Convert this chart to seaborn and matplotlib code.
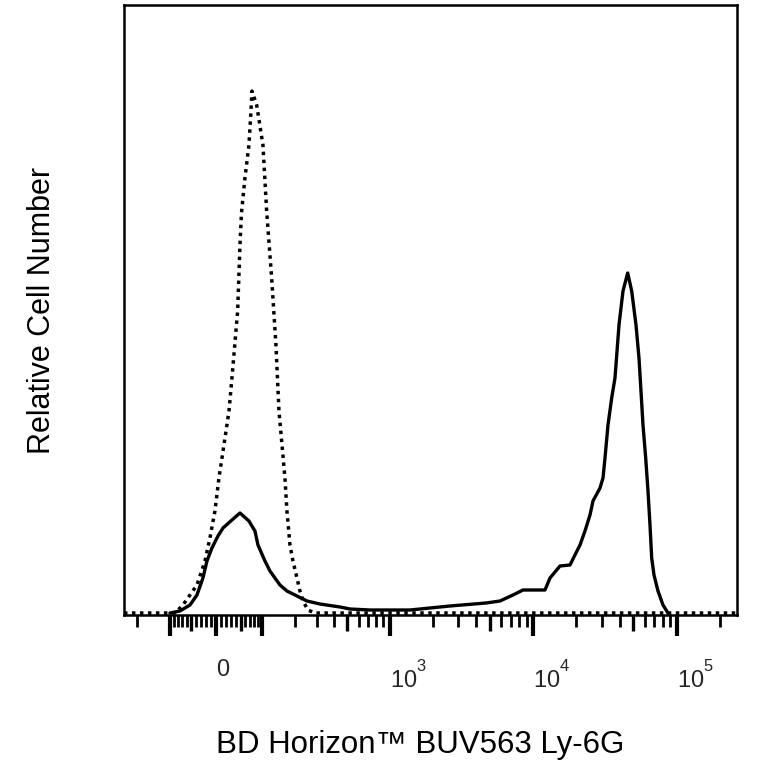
import numpy as np
import pandas as pd
import matplotlib
matplotlib.use("Agg")
import matplotlib.pyplot as plt
import seaborn as sns

# ---- data (fluorescence intensity vs. relative cell count) ----
ly6g_fluor = [-99.3, -75.1, -52.8, -38.1, -25.9, -17.8, -7.9, 3.95, 13.9, 31.9,
              48.6, 68.2, 82.1, 89.4, 107, 120.5, 149.8, 172.5, 209, 250.7,
              314.9, 441.7, 521, 723, 1176, 1381, 1907, 2630, 4688, 5870,
              7233, 8493, 12091, 13100, 15380, 18056, 19560, 21200, 22970, 24890,
              26120, 29230, 30670, 31670, 33230, 35260, 37180, 39650, 42280, 45580,
              48610, 52090, 54650, 56430, 58270, 60860, 63150, 65210, 67010, 69530,
              74140, 80340, 87050]
ly6g_count = [0, 2, 8, 18, 35, 52, 65, 77, 85, 93,
              100, 92, 82, 68, 52, 42, 28, 22, 17, 12,
              9, 6, 4, 3, 3, 3, 5, 7, 10, 12,
              18, 23, 23, 35, 47, 48, 58, 68, 82, 98,
              112, 125, 135, 155, 188, 215, 235, 288, 322, 340,
              322, 288, 255, 222, 188, 155, 122, 88, 55, 38,
              22, 8, 0]

iso_fluor = [-255, -86.9, -68.2, -38.1, -21.8, -11.9, -2.0, 5.9, 15.8, 25.9,
             31.9, 43.7, 48.6, 51.8, 59.3, 68.2, 72.8, 75.1, 86.2, 101.8,
             111.5, 125.2, 137.6, 146.7, 165.8, 172.5, 183.0, 193.8, 209, 220.8,
             233.3, 255.2, 288.8, 263500]
iso_count = [0, 0, 8, 28, 52, 75, 102, 135, 168, 202,
             235, 302, 368, 400, 435, 468, 502, 522, 508, 468,
             402, 335, 268, 202, 135, 102, 68, 52, 35, 22,
             12, 3, 0, 0]

major_ticks = [-100, 0, 100, 1e3, 1e4, 1e5]
major_labels = ["", r"$\mathregular{0}$", "", r"$\mathregular{10^3}$",
                r"$\mathregular{10^4}$", r"$\mathregular{10^5}$"]
medium_ticks = [-50, 50, 500, 5e3, 5e4]

x_label = "BD Horizon\u2122 BUV563 Ly-6G"
y_label = "Relative Cell Number"

# ---- style ----
sns.set_style("white")
plt.rcParams["font.family"] = ["Liberation Sans", "DejaVu Sans"]
plt.rcParams["mathtext.fontset"] = "custom"
plt.rcParams["mathtext.rm"] = "Liberation Sans"
plt.rcParams["mathtext.it"] = "Liberation Sans:italic"
plt.rcParams["mathtext.bf"] = "Liberation Sans:bold"
try:  # raise exponents so they sit at the top of the mantissa
    from matplotlib import _mathtext
    _mathtext.FontConstantsBase.sup1 = 1.3
    _mathtext.FontConstantsBase.subdrop = 0.0
except Exception:
    pass

C = 123.0
fwd = lambda v: np.arcsinh(np.asarray(v, dtype=float) / C)
inv = lambda v: C * np.sinh(np.asarray(v, dtype=float))

fig = plt.figure(figsize=(7.68, 7.68), dpi=100)
ax = fig.add_axes([124 / 768, 1 - 615 / 768, 613 / 768, 610 / 768])
ax.set_xscale("function", functions=(fwd, inv))

df_iso = pd.DataFrame({"fluor": iso_fluor, "count": iso_count})
df_ly = pd.DataFrame({"fluor": ly6g_fluor, "count": ly6g_count})

sns.lineplot(data=df_iso, x="fluor", y="count", ax=ax, color="black",
             linewidth=2.5, linestyle=(0, (1, 1.3)), estimator=None, sort=False)
sns.lineplot(data=df_ly, x="fluor", y="count", ax=ax, color="black",
             linewidth=2.4, estimator=None, sort=False)

ax.set_xlim(-255, 263500)
ax.set_ylim(-2, 608)

# ticks
minor_ticks = ([-200] + [-v for v in range(10, 100, 10) if v != 50]
               + [v for v in range(10, 100, 10) if v != 50]
               + [m * 10 ** e for e in (2, 3, 4) for m in range(2, 10) if m != 5]
               + [2e5])
ax.xaxis.set_major_locator(matplotlib.ticker.FixedLocator(major_ticks))
ax.xaxis.set_major_formatter(matplotlib.ticker.FixedFormatter(major_labels))
ax.xaxis.set_minor_locator(matplotlib.ticker.FixedLocator(minor_ticks))
ax.xaxis.set_minor_formatter(matplotlib.ticker.NullFormatter())
ax.tick_params(axis="x", which="major", direction="out", length=15, width=3.0,
               color="black", labelsize=17, pad=17, bottom=True, top=False)
ax.tick_params(axis="x", which="minor", direction="out", length=8.5, width=2.0,
               color="black", bottom=True, top=False)
for lab in ax.get_xticklabels():
    lab.set_ha("left")
ax.set_yticks([])

# medium-length ticks on a twin axis
ax2 = ax.twiny()
ax2.set_xscale("function", functions=(fwd, inv))
ax2.set_xlim(ax.get_xlim())
ax2.xaxis.tick_bottom()
ax2.set_xticks(medium_ticks)
ax2.xaxis.set_minor_locator(matplotlib.ticker.NullLocator())
ax2.tick_params(axis="x", which="major", direction="out", length=11.5, width=2.4,
                color="black", labelbottom=False, labeltop=False, top=False)
for s in ax2.spines.values():
    s.set_visible(False)

for s in ax.spines.values():
    s.set_visible(True)
    s.set_color("black")
    s.set_linewidth(1.8)

ax.set_xlabel(x_label, fontsize=22.5, color="black")
ax.set_ylabel(y_label, fontsize=22, color="black")
ax.xaxis.label.set_va("center")
ax.yaxis.label.set_va("center")
ax.xaxis.set_label_coords((420 - 124) / 613, (615 - 745) / 610)
ax.yaxis.set_label_coords((42 - 124) / 613, 0.5)

fig.savefig("out.png", dpi=100, facecolor="white")
